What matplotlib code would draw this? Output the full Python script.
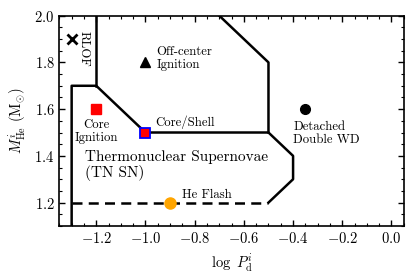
import matplotlib
matplotlib.use("Agg")
import matplotlib.pyplot as plt
from matplotlib.ticker import MultipleLocator

plt.rcParams["font.family"] = "serif"
plt.rcParams["font.serif"] = ["cmr10", "DejaVu Serif"]
plt.rcParams["mathtext.fontset"] = "cm"
plt.rcParams["axes.formatter.use_mathtext"] = True

# region boundaries (log P, M_He)
tn_x = [-1.3, -1.3, -1.2, -1.0, -0.5, -0.4, -0.4, -0.5]
tn_y = [1.1, 1.7, 1.7, 1.5, 1.5, 1.4, 1.3, 1.2]
rlof_x = [-1.2, -1.2]
rlof_y = [2.0, 1.7]
off_x = [-0.7, -0.5, -0.5]
off_y = [2.0, 1.8, 1.5]
flash_x = [-1.3, -0.5]
flash_y = [1.2, 1.2]

# sample models
x_rlof, y_rlof = -1.3, 1.9
x_off, y_off = -1.0, 1.8
x_core, y_core = -1.2, 1.6
x_shell, y_shell = -1.0, 1.5
x_det, y_det = -0.35, 1.6
x_flash, y_flash = -0.9, 1.2

fig = plt.figure(figsize=(4.15, 2.8), dpi=100)
ax = fig.add_axes([0.143, 0.193, 0.83, 0.751])

lw = 1.8
ax.plot(tn_x, tn_y, color="black", lw=lw)
ax.plot(rlof_x, rlof_y, color="black", lw=lw)
ax.plot(off_x, off_y, color="black", lw=lw)
ax.plot(flash_x, flash_y, color="black", lw=lw, ls=(0, (4, 2.5)))

ax.plot(x_rlof, y_rlof, marker="x", color="black", ms=7, mew=2, ls="none")
ax.plot(x_off, y_off, marker="^", color="black", ms=7, ls="none")
ax.plot(x_core, y_core, marker="s", color="red", ms=7, ls="none")
ax.plot(x_shell, y_shell, marker="s", mfc="red", mec="blue", mew=1.3, ms=7, ls="none")
ax.plot(x_det, y_det, marker="o", color="black", ms=7, ls="none")
ax.plot(x_flash, y_flash, marker="o", color="orange", ms=8, ls="none")

fs = 9.2
ax.text(-1.25, 1.86, "RLOF", rotation=270, ha="center", va="center", fontsize=fs)
ax.text(-0.955, 1.818, "Off-center\nIgnition", ha="left", va="center", fontsize=fs,
        linespacing=1.05)
ax.text(-1.2, 1.557, "Core\nIgnition", ha="center", va="top", fontsize=fs,
        linespacing=1.05)
ax.text(-0.96, 1.515, "Core/Shell", ha="left", va="bottom", fontsize=fs)
ax.text(-0.4, 1.548, "Detached\nDouble WD", ha="left", va="top", fontsize=fs,
        linespacing=1.05)
ax.text(-0.85, 1.207, "He Flash", ha="left", va="bottom", fontsize=fs)
ax.text(-1.245, 1.36, "Thermonuclear Supernovae\n(TN SN)", ha="left", va="center",
        fontsize=11, linespacing=1.1)

ax.set_xlim(-1.35, 0.05)
ax.set_ylim(1.1, 2.0)
ax.xaxis.set_major_locator(MultipleLocator(0.2))
ax.xaxis.set_minor_locator(MultipleLocator(0.05))
ax.yaxis.set_major_locator(MultipleLocator(0.2))
ax.yaxis.set_minor_locator(MultipleLocator(0.05))
ax.tick_params(which="both", direction="in", top=True, right=True, labelsize=10.5)
ax.tick_params(which="major", length=4.5, width=1)
ax.tick_params(which="minor", length=2.5, width=0.8)
for s in ax.spines.values():
    s.set_linewidth(1.2)

ax.set_xlabel(r"$\log\ P^{i}_{\rm d}$", fontsize=10.5)
ax.set_ylabel(r"$M^{i}_{\rm He}$ (M$_{\odot}$)", fontsize=10.5)

fig.savefig("out.png", dpi=100)
